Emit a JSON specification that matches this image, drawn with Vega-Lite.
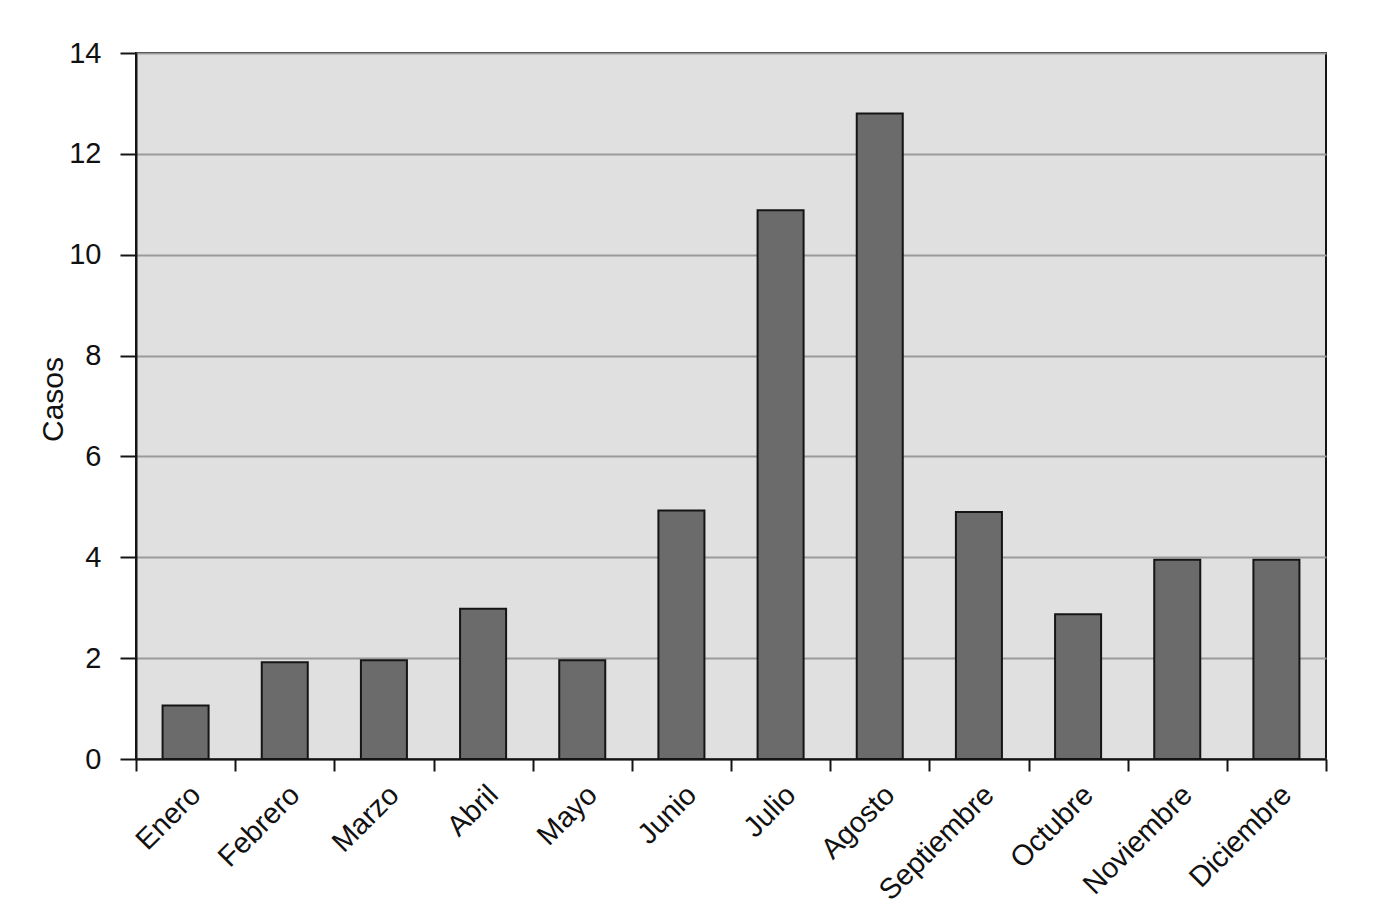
{
  "$schema": "https://vega.github.io/schema/vega-lite/v6.json",
  "width": 1190,
  "height": 706,
  "autosize": {"type": "none"},
  "padding": {"left": 136, "top": 53, "right": 71, "bottom": 154},
  "background": "white",
  "config": {
    "font": "Liberation Sans",
    "view": {"fill": "#e0e0e0", "stroke": "#151515", "strokeWidth": 2}
  },
  "data": {
    "values": [
      {"mes": "Enero", "casos": 1.06},
      {"mes": "Febrero", "casos": 1.92},
      {"mes": "Marzo", "casos": 1.96},
      {"mes": "Abril", "casos": 2.98},
      {"mes": "Mayo", "casos": 1.96},
      {"mes": "Junio", "casos": 4.93},
      {"mes": "Julio", "casos": 10.88},
      {"mes": "Agosto", "casos": 12.8},
      {"mes": "Septiembre", "casos": 4.9},
      {"mes": "Octubre", "casos": 2.87},
      {"mes": "Noviembre", "casos": 3.95},
      {"mes": "Diciembre", "casos": 3.95}
    ]
  },
  "mark": {
    "type": "bar",
    "fill": "#6b6b6b",
    "stroke": "#151515",
    "strokeWidth": 2,
    "width": {"band": 0.464}
  },
  "encoding": {
    "x": {
      "field": "mes",
      "type": "nominal",
      "sort": null,
      "scale": {"paddingInner": 0, "paddingOuter": 0},
      "axis": {
        "title": null,
        "labelAngle": -45,
        "labelFontSize": 29,
        "labelColor": "#111111",
        "labelPadding": 9,
        "tickBand": "extent",
        "tickSize": 12,
        "tickWidth": 2,
        "tickColor": "#151515",
        "domainColor": "#151515",
        "domainWidth": 2,
        "grid": false
      }
    },
    "y": {
      "field": "casos",
      "type": "quantitative",
      "scale": {"domain": [0, 14], "nice": false},
      "axis": {
        "title": "Casos",
        "titleFontSize": 30,
        "titleFontWeight": "normal",
        "titleColor": "#111111",
        "titlePadding": 0,
        "titleY": 346,
        "values": [0, 2, 4, 6, 8, 10, 12, 14],
        "labelFontSize": 29,
        "labelColor": "#111111",
        "labelPadding": 19,
        "tickSize": 16,
        "tickWidth": 2,
        "tickColor": "#151515",
        "domainColor": "#151515",
        "domainWidth": 2,
        "grid": true,
        "gridColor": "#9a9a9a",
        "gridWidth": 2
      }
    }
  }
}
